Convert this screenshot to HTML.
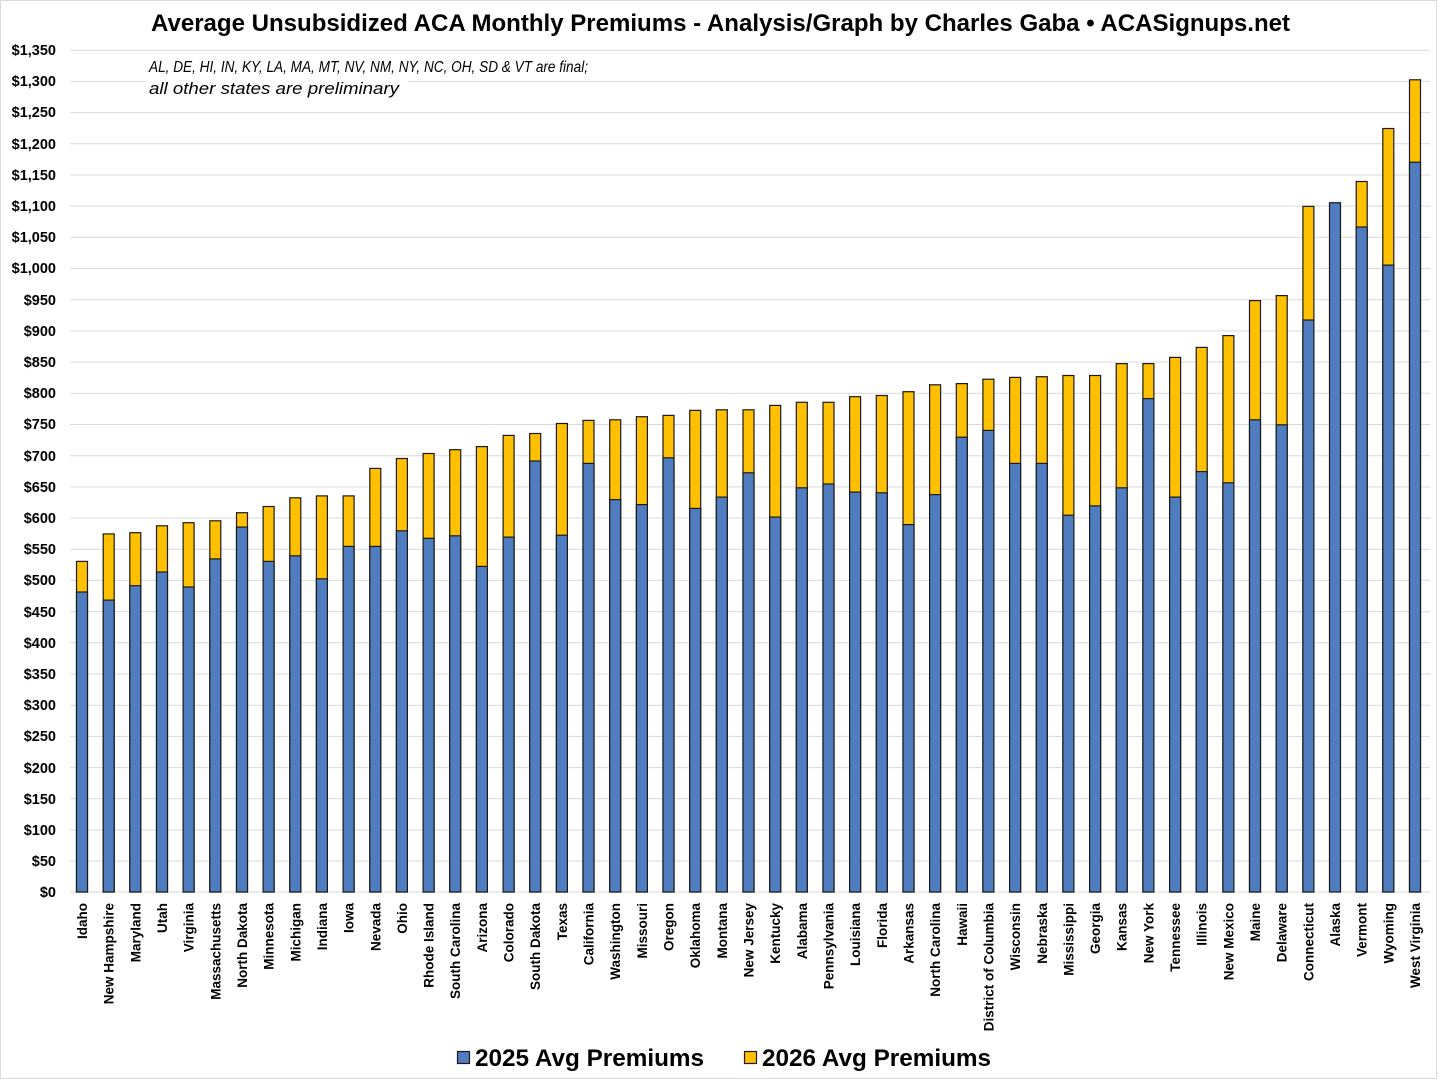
<!DOCTYPE html>
<html><head><meta charset="utf-8"><style>
html,body{margin:0;padding:0;background:#fff;}
svg{display:block;}
.yl{font:bold 14.5px "Liberation Sans",sans-serif;text-anchor:end;}
.xl{font:bold 13.5px "Liberation Sans",sans-serif;text-anchor:end;}
.y{fill:#FFC000;stroke:#1a1a1a;stroke-width:1.2;}
.b{fill:#4F7DBF;stroke:#1a1a1a;stroke-width:1.2;}
.g{stroke:#d9d9d9;stroke-width:1;}
</style></head><body>
<svg width="1441" height="1081" viewBox="0 0 1441 1081" xmlns="http://www.w3.org/2000/svg">
<rect x="0.5" y="0.5" width="1436" height="1078" fill="#fff" stroke="#d9d9d9"/>
<g class="g">
<line x1="70" x2="1430" y1="50.2" y2="50.2"/><line x1="70" x2="1430" y1="81.4" y2="81.4"/><line x1="70" x2="1430" y1="112.6" y2="112.6"/><line x1="70" x2="1430" y1="143.8" y2="143.8"/><line x1="70" x2="1430" y1="175" y2="175"/><line x1="70" x2="1430" y1="206.1" y2="206.1"/><line x1="70" x2="1430" y1="237.3" y2="237.3"/><line x1="70" x2="1430" y1="268.5" y2="268.5"/><line x1="70" x2="1430" y1="299.7" y2="299.7"/><line x1="70" x2="1430" y1="330.9" y2="330.9"/><line x1="70" x2="1430" y1="362.1" y2="362.1"/><line x1="70" x2="1430" y1="393.3" y2="393.3"/><line x1="70" x2="1430" y1="424.5" y2="424.5"/><line x1="70" x2="1430" y1="455.7" y2="455.7"/><line x1="70" x2="1430" y1="486.9" y2="486.9"/><line x1="70" x2="1430" y1="518" y2="518"/><line x1="70" x2="1430" y1="549.2" y2="549.2"/><line x1="70" x2="1430" y1="580.4" y2="580.4"/><line x1="70" x2="1430" y1="611.6" y2="611.6"/><line x1="70" x2="1430" y1="642.8" y2="642.8"/><line x1="70" x2="1430" y1="674" y2="674"/><line x1="70" x2="1430" y1="705.2" y2="705.2"/><line x1="70" x2="1430" y1="736.4" y2="736.4"/><line x1="70" x2="1430" y1="767.6" y2="767.6"/><line x1="70" x2="1430" y1="798.8" y2="798.8"/><line x1="70" x2="1430" y1="829.9" y2="829.9"/><line x1="70" x2="1430" y1="861.1" y2="861.1"/><line x1="70" x2="1430" y1="892" y2="892"/>
</g>
<g class="yl">
<text x="56" y="55">$1,350</text><text x="56" y="86">$1,300</text><text x="56" y="117">$1,250</text><text x="56" y="149">$1,200</text><text x="56" y="180">$1,150</text><text x="56" y="211">$1,100</text><text x="56" y="242">$1,050</text><text x="56" y="273">$1,000</text><text x="56" y="305">$950</text><text x="56" y="336">$900</text><text x="56" y="367">$850</text><text x="56" y="398">$800</text><text x="56" y="429">$750</text><text x="56" y="461">$700</text><text x="56" y="492">$650</text><text x="56" y="523">$600</text><text x="56" y="554">$550</text><text x="56" y="585">$500</text><text x="56" y="617">$450</text><text x="56" y="648">$400</text><text x="56" y="679">$350</text><text x="56" y="710">$300</text><text x="56" y="741">$250</text><text x="56" y="773">$200</text><text x="56" y="804">$150</text><text x="56" y="835">$100</text><text x="56" y="866">$50</text><text x="56" y="897">$0</text>
</g>
<text x="151" y="31" style="font:bold 24px 'Liberation Sans',sans-serif" textLength="1139" lengthAdjust="spacingAndGlyphs">Average Unsubsidized ACA Monthly Premiums - Analysis/Graph by Charles Gaba • ACASignups.net</text>
<rect x="146" y="55" width="262" height="46" fill="#fff"/>
<text x="149" y="72" style="font:italic 16px 'Liberation Sans',sans-serif" textLength="439" lengthAdjust="spacingAndGlyphs">AL, DE, HI, IN, KY, LA, MA, MT, NV, NM, NY, NC, OH, SD &amp; VT are final;</text>
<text x="149" y="94" style="font:italic 17px 'Liberation Sans',sans-serif" textLength="250" lengthAdjust="spacingAndGlyphs">all other states are preliminary</text>
<g>
<rect class="y" x="76.5" y="561.4" width="11" height="330.6"/><rect class="b" x="76.5" y="592" width="11" height="300"/>
<rect class="y" x="103.2" y="533.9" width="11" height="358.1"/><rect class="b" x="103.2" y="600.1" width="11" height="291.9"/>
<rect class="y" x="129.8" y="532.7" width="11" height="359.3"/><rect class="b" x="129.8" y="585.7" width="11" height="306.3"/>
<rect class="y" x="156.5" y="525.8" width="11" height="366.2"/><rect class="b" x="156.5" y="572" width="11" height="320"/>
<rect class="y" x="183.1" y="522.7" width="11" height="369.3"/><rect class="b" x="183.1" y="587" width="11" height="305"/>
<rect class="y" x="209.8" y="520.8" width="11" height="371.2"/><rect class="b" x="209.8" y="558.9" width="11" height="333.1"/>
<rect class="y" x="236.5" y="512.7" width="11" height="379.3"/><rect class="b" x="236.5" y="527.1" width="11" height="364.9"/>
<rect class="y" x="263.1" y="506.5" width="11" height="385.5"/><rect class="b" x="263.1" y="561.4" width="11" height="330.6"/>
<rect class="y" x="289.8" y="497.8" width="11" height="394.2"/><rect class="b" x="289.8" y="555.8" width="11" height="336.2"/>
<rect class="y" x="316.4" y="495.9" width="11" height="396.1"/><rect class="b" x="316.4" y="578.8" width="11" height="313.2"/>
<rect class="y" x="343.1" y="495.9" width="11" height="396.1"/><rect class="b" x="343.1" y="546.4" width="11" height="345.6"/>
<rect class="y" x="369.8" y="468.4" width="11" height="423.6"/><rect class="b" x="369.8" y="546.4" width="11" height="345.6"/>
<rect class="y" x="396.4" y="458.5" width="11" height="433.5"/><rect class="b" x="396.4" y="530.8" width="11" height="361.2"/>
<rect class="y" x="423.1" y="453.5" width="11" height="438.5"/><rect class="b" x="423.1" y="538.3" width="11" height="353.7"/>
<rect class="y" x="449.7" y="449.7" width="11" height="442.3"/><rect class="b" x="449.7" y="535.8" width="11" height="356.2"/>
<rect class="y" x="476.4" y="446.6" width="11" height="445.4"/><rect class="b" x="476.4" y="566.4" width="11" height="325.6"/>
<rect class="y" x="503.1" y="435.4" width="11" height="456.6"/><rect class="b" x="503.1" y="537.1" width="11" height="354.9"/>
<rect class="y" x="529.7" y="433.5" width="11" height="458.5"/><rect class="b" x="529.7" y="461" width="11" height="431"/>
<rect class="y" x="556.4" y="423.5" width="11" height="468.5"/><rect class="b" x="556.4" y="535.2" width="11" height="356.8"/>
<rect class="y" x="583" y="420.4" width="11" height="471.6"/><rect class="b" x="583" y="463.4" width="11" height="428.6"/>
<rect class="y" x="609.7" y="419.8" width="11" height="472.2"/><rect class="b" x="609.7" y="499.6" width="11" height="392.4"/>
<rect class="y" x="636.4" y="416.7" width="11" height="475.3"/><rect class="b" x="636.4" y="504.6" width="11" height="387.4"/>
<rect class="y" x="663" y="415.4" width="11" height="476.6"/><rect class="b" x="663" y="457.8" width="11" height="434.2"/>
<rect class="y" x="689.7" y="410.4" width="11" height="481.6"/><rect class="b" x="689.7" y="508.4" width="11" height="383.6"/>
<rect class="y" x="716.3" y="409.8" width="11" height="482.2"/><rect class="b" x="716.3" y="497.1" width="11" height="394.9"/>
<rect class="y" x="743" y="409.8" width="11" height="482.2"/><rect class="b" x="743" y="472.8" width="11" height="419.2"/>
<rect class="y" x="769.7" y="405.4" width="11" height="486.6"/><rect class="b" x="769.7" y="517.1" width="11" height="374.9"/>
<rect class="y" x="796.3" y="402.3" width="11" height="489.7"/><rect class="b" x="796.3" y="487.8" width="11" height="404.2"/>
<rect class="y" x="823" y="402.3" width="11" height="489.7"/><rect class="b" x="823" y="484" width="11" height="408"/>
<rect class="y" x="849.6" y="396.7" width="11" height="495.3"/><rect class="b" x="849.6" y="492.1" width="11" height="399.9"/>
<rect class="y" x="876.3" y="395.5" width="11" height="496.5"/><rect class="b" x="876.3" y="492.8" width="11" height="399.2"/>
<rect class="y" x="903" y="391.7" width="11" height="500.3"/><rect class="b" x="903" y="524.6" width="11" height="367.4"/>
<rect class="y" x="929.6" y="384.8" width="11" height="507.2"/><rect class="b" x="929.6" y="494.6" width="11" height="397.4"/>
<rect class="y" x="956.3" y="383.6" width="11" height="508.4"/><rect class="b" x="956.3" y="437.2" width="11" height="454.8"/>
<rect class="y" x="982.9" y="379.2" width="11" height="512.8"/><rect class="b" x="982.9" y="430.4" width="11" height="461.6"/>
<rect class="y" x="1009.6" y="377.4" width="11" height="514.6"/><rect class="b" x="1009.6" y="463.4" width="11" height="428.6"/>
<rect class="y" x="1036.3" y="376.7" width="11" height="515.3"/><rect class="b" x="1036.3" y="463.4" width="11" height="428.6"/>
<rect class="y" x="1062.9" y="375.5" width="11" height="516.5"/><rect class="b" x="1062.9" y="515.2" width="11" height="376.8"/>
<rect class="y" x="1089.6" y="375.5" width="11" height="516.5"/><rect class="b" x="1089.6" y="505.9" width="11" height="386.1"/>
<rect class="y" x="1116.2" y="363.6" width="11" height="528.4"/><rect class="b" x="1116.2" y="487.8" width="11" height="404.2"/>
<rect class="y" x="1142.9" y="363.6" width="11" height="528.4"/><rect class="b" x="1142.9" y="398.6" width="11" height="493.4"/>
<rect class="y" x="1169.6" y="357.4" width="11" height="534.6"/><rect class="b" x="1169.6" y="497.1" width="11" height="394.9"/>
<rect class="y" x="1196.2" y="347.4" width="11" height="544.6"/><rect class="b" x="1196.2" y="471.6" width="11" height="420.4"/>
<rect class="y" x="1222.9" y="335.6" width="11" height="556.4"/><rect class="b" x="1222.9" y="482.8" width="11" height="409.2"/>
<rect class="y" x="1249.5" y="300.6" width="11" height="591.4"/><rect class="b" x="1249.5" y="419.8" width="11" height="472.2"/>
<rect class="y" x="1276.2" y="295.6" width="11" height="596.4"/><rect class="b" x="1276.2" y="424.8" width="11" height="467.2"/>
<rect class="y" x="1302.9" y="206.4" width="11" height="685.6"/><rect class="b" x="1302.9" y="320" width="11" height="572"/>
<rect class="b" x="1329.5" y="202.7" width="11" height="689.3"/>
<rect class="y" x="1356.2" y="181.5" width="11" height="710.5"/><rect class="b" x="1356.2" y="227" width="11" height="665"/>
<rect class="y" x="1382.8" y="128.5" width="11" height="763.5"/><rect class="b" x="1382.8" y="265.1" width="11" height="626.9"/>
<rect class="y" x="1409.5" y="79.8" width="11" height="812.2"/><rect class="b" x="1409.5" y="162.2" width="11" height="729.8"/>
</g>
<g class="xl">
<text transform="translate(87,903) rotate(-90)">Idaho</text>
<text transform="translate(113.7,903) rotate(-90)">New Hampshire</text>
<text transform="translate(140.3,903) rotate(-90)">Maryland</text>
<text transform="translate(167,903) rotate(-90)">Utah</text>
<text transform="translate(193.6,903) rotate(-90)">Virginia</text>
<text transform="translate(220.3,903) rotate(-90)">Massachusetts</text>
<text transform="translate(247,903) rotate(-90)">North Dakota</text>
<text transform="translate(273.6,903) rotate(-90)">Minnesota</text>
<text transform="translate(300.3,903) rotate(-90)">Michigan</text>
<text transform="translate(326.9,903) rotate(-90)">Indiana</text>
<text transform="translate(353.6,903) rotate(-90)">Iowa</text>
<text transform="translate(380.3,903) rotate(-90)">Nevada</text>
<text transform="translate(406.9,903) rotate(-90)">Ohio</text>
<text transform="translate(433.6,903) rotate(-90)">Rhode Island</text>
<text transform="translate(460.2,903) rotate(-90)">South Carolina</text>
<text transform="translate(486.9,903) rotate(-90)">Arizona</text>
<text transform="translate(513.6,903) rotate(-90)">Colorado</text>
<text transform="translate(540.2,903) rotate(-90)">South Dakota</text>
<text transform="translate(566.9,903) rotate(-90)">Texas</text>
<text transform="translate(593.5,903) rotate(-90)">California</text>
<text transform="translate(620.2,903) rotate(-90)">Washington</text>
<text transform="translate(646.9,903) rotate(-90)">Missouri</text>
<text transform="translate(673.5,903) rotate(-90)">Oregon</text>
<text transform="translate(700.2,903) rotate(-90)">Oklahoma</text>
<text transform="translate(726.8,903) rotate(-90)">Montana</text>
<text transform="translate(753.5,903) rotate(-90)">New Jersey</text>
<text transform="translate(780.2,903) rotate(-90)">Kentucky</text>
<text transform="translate(806.8,903) rotate(-90)">Alabama</text>
<text transform="translate(833.5,903) rotate(-90)">Pennsylvania</text>
<text transform="translate(860.1,903) rotate(-90)">Louisiana</text>
<text transform="translate(886.8,903) rotate(-90)">Florida</text>
<text transform="translate(913.5,903) rotate(-90)">Arkansas</text>
<text transform="translate(940.1,903) rotate(-90)">North Carolina</text>
<text transform="translate(966.8,903) rotate(-90)">Hawaii</text>
<text transform="translate(993.4,903) rotate(-90)">District of Columbia</text>
<text transform="translate(1020.1,903) rotate(-90)">Wisconsin</text>
<text transform="translate(1046.8,903) rotate(-90)">Nebraska</text>
<text transform="translate(1073.4,903) rotate(-90)">Mississippi</text>
<text transform="translate(1100.1,903) rotate(-90)">Georgia</text>
<text transform="translate(1126.7,903) rotate(-90)">Kansas</text>
<text transform="translate(1153.4,903) rotate(-90)">New York</text>
<text transform="translate(1180.1,903) rotate(-90)">Tennessee</text>
<text transform="translate(1206.7,903) rotate(-90)">Illinois</text>
<text transform="translate(1233.4,903) rotate(-90)">New Mexico</text>
<text transform="translate(1260,903) rotate(-90)">Maine</text>
<text transform="translate(1286.7,903) rotate(-90)">Delaware</text>
<text transform="translate(1313.4,903) rotate(-90)">Connecticut</text>
<text transform="translate(1340,903) rotate(-90)">Alaska</text>
<text transform="translate(1366.7,903) rotate(-90)">Vermont</text>
<text transform="translate(1393.3,903) rotate(-90)">Wyoming</text>
<text transform="translate(1420,903) rotate(-90)">West Virginia</text>
</g>
<rect class="b" x="457.5" y="1051.5" width="12" height="12"/>
<text x="475" y="1066" style="font:bold 24px 'Liberation Sans',sans-serif" textLength="229" lengthAdjust="spacingAndGlyphs">2025 Avg Premiums</text>
<rect class="y" x="744.5" y="1051.5" width="12" height="12"/>
<text x="762" y="1066" style="font:bold 24px 'Liberation Sans',sans-serif" textLength="229" lengthAdjust="spacingAndGlyphs">2026 Avg Premiums</text>
</svg>
</body></html>
